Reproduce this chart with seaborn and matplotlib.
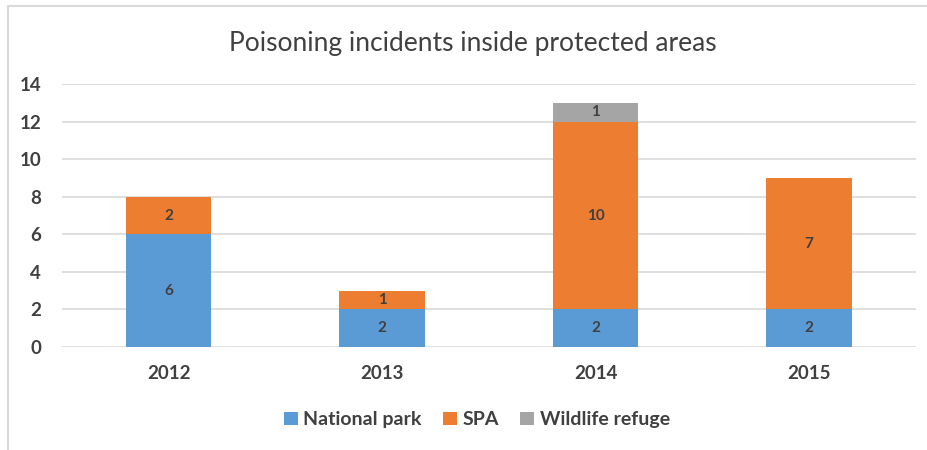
import numpy as np
import pandas as pd
import matplotlib
matplotlib.use("Agg")
import matplotlib.pyplot as plt
from matplotlib.patches import Patch
from matplotlib.lines import Line2D
import seaborn as sns

# Data
years = ["2012", "2013", "2014", "2015"]
national_park = [6, 2, 2, 2]
spa = [2, 1, 10, 7]
wildlife_refuge = [0, 0, 1, 0]

series_names = ["National park", "SPA", "Wildlife refuge"]
colors = ["#5B9BD5", "#ED7D31", "#A5A5A5"]
text_color = "#404040"

sns.set_theme(style="white")
plt.rcParams["font.family"] = ["Lato", "DejaVu Sans"]

df = pd.DataFrame({"year": years, "National park": national_park,
                   "SPA": spa, "Wildlife refuge": wildlife_refuge})

fig = plt.figure(figsize=(9.28, 4.5), dpi=100)
ax = fig.add_axes([0.0668, 0.229, 0.92, 0.584])

# stacked bars: draw cumulative totals from the top series down
cum = df[series_names].cumsum(axis=1)
for name, col in reversed(list(zip(series_names, colors))):
    sns.barplot(x=df["year"], y=cum[name], color=col, width=0.4,
                saturation=1, edgecolor="none", linewidth=0, ax=ax, zorder=3)

# segment labels in the middle of each segment
bottoms = np.zeros(len(years))
for name in series_names:
    vals = df[name].to_numpy()
    for i, v in enumerate(vals):
        if v > 0:
            ax.text(i, bottoms[i] + v / 2, str(v), ha="center", va="center",
                    fontsize=11, fontweight="bold", color=text_color, zorder=4)
    bottoms += vals

ax.set_ylim(0, 14)
ax.set_yticks(range(0, 15, 2))
ax.set_xlim(-0.5, len(years) - 0.5)
ax.set_xlabel("")
ax.set_ylabel("")
ax.yaxis.grid(True, color="#D9D9D9", linewidth=1.2, zorder=0)
ax.set_axisbelow(True)
sns.despine(ax=ax, left=True, bottom=True)
ax.tick_params(axis="both", length=0, labelsize=13.5, labelcolor=text_color)
ax.tick_params(axis="x", pad=13)
ax.tick_params(axis="y", pad=15)
for lab in ax.get_xticklabels() + ax.get_yticklabels():
    lab.set_fontweight("bold")

fig.text(0.51, 0.904, "Poisoning incidents inside protected areas",
         ha="center", va="center", fontsize=19, color=text_color)

handles = [Patch(facecolor=c, edgecolor="none") for c in colors]
fig.legend(handles, series_names, loc="center", bbox_to_anchor=(0.514, 0.067),
           ncol=3, frameon=False, handlelength=0.7, handleheight=0.7,
           handletextpad=0.3, columnspacing=1.1,
           prop={"size": 14, "weight": "bold"}, labelcolor=text_color)

# light frame visible at left and top of the reference image
fig.add_artist(Line2D([7.5 / 928, 7.5 / 928], [0, 1 - 6 / 450],
                      transform=fig.transFigure, color="#D9D9D9", linewidth=1.5))
fig.add_artist(Line2D([7.5 / 928, 1], [1 - 6 / 450, 1 - 6 / 450],
                      transform=fig.transFigure, color="#D9D9D9", linewidth=1.5))

fig.savefig("out.png", dpi=100)
